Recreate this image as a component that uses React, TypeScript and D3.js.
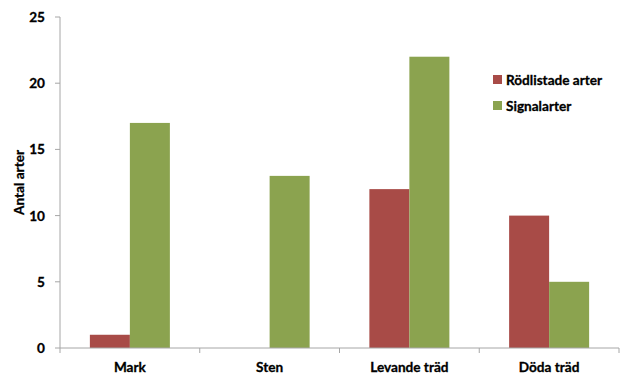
import React from "react";
import * as d3 from "d3";

const categories = ["Mark", "Sten", "Levande träd", "Döda träd"];
const seriesNames = ["Rödlistade arter", "Signalarter"];
const rodlistade = [1, 0, 12, 10];
const signalarter = [17, 13, 22, 5];
const yTicks = [0, 5, 10, 15, 20, 25];
const colors = ["#A84B47", "#8BA34F"];

export default function App() {
  const W = 620, H = 374;
  const left = 60, right = 619, top = 17, bottom = 348;
  const x = d3.scaleBand<string>().domain(categories).range([left, right]).paddingInner(0).paddingOuter(0);
  const y = d3.scaleLinear().domain([0, 25]).range([bottom, top]);
  const series = [rodlistade, signalarter];
  const barW = 40;
  const font = "Lato, 'Open Sans', sans-serif";
  const fs = 13.6;
  return (
    <svg width={W} height={H} style={{ position: "absolute", left: 0, top: 0 }}>
      <rect x={0} y={0} width={W} height={H} fill="white" />
      {categories.map((c, i) =>
        series.map((s, si) => {
          const bx = (x(c) as number) + x.bandwidth() / 2 - barW + si * barW;
          return s[i] > 0 ? (
            <rect key={c + si} x={bx} y={y(s[i])} width={barW} height={y(0) - y(s[i])} fill={colors[si]} />
          ) : null;
        })
      )}
      <line x1={left} x2={left} y1={top} y2={bottom} stroke="#A6A6A6" />
      <line x1={left} x2={right} y1={bottom} y2={bottom} stroke="#A6A6A6" />
      {yTicks.map((t) => (
        <g key={t}>
          <line x1={left - 5} x2={left} y1={y(t)} y2={y(t)} stroke="#A6A6A6" />
          <text x={45} y={y(t) + 5} textAnchor="end" fontSize={fs} fontWeight="bold" fontFamily={font} stroke="black" strokeWidth={0.3}>{t}</text>
        </g>
      ))}
      {[...categories.map((c) => x(c) as number), right].map((v, i) => (
        <line key={i} x1={v} x2={v} y1={bottom} y2={bottom + 5} stroke="#A6A6A6" />
      ))}
      {categories.map((c) => (
        <text key={c} x={(x(c) as number) + x.bandwidth() / 2} y={372} textAnchor="middle" fontSize={fs} fontWeight="bold" fontFamily={font} stroke="black" strokeWidth={0.3}>{c}</text>
      ))}
      <text transform={`translate(24,${(top + bottom) / 2}) rotate(-90)`} textAnchor="middle" fontSize={fs} fontWeight="bold" fontFamily={font} stroke="black" strokeWidth={0.3}>Antal arter</text>
      {seriesNames.map((n, i) => (
        <g key={n}>
          <rect x={493} y={75 + i * 26} width={9} height={9} fill={colors[i]} />
          <text x={506} y={85 + i * 26} fontSize={fs} fontWeight="bold" fontFamily={font} stroke="black" strokeWidth={0.3}>{n}</text>
        </g>
      ))}
    </svg>
  );
}
